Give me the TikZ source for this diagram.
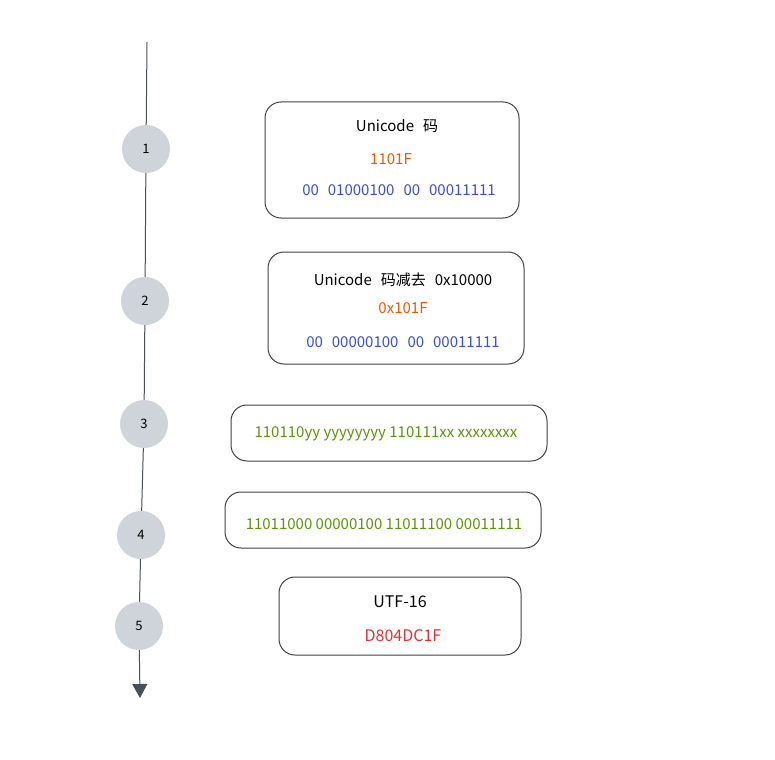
\documentclass[tikz,border=0pt]{standalone}
\usepackage{fontspec}
\setmainfont{Noto Sans CJK SC}
\usetikzlibrary{arrows.meta}
\definecolor{stepgray}{HTML}{CED4DA}
\definecolor{linegray}{HTML}{495057}
\definecolor{codeorange}{HTML}{E8590C}
\definecolor{codeblue}{HTML}{3B4FD0}
\definecolor{codegreen}{HTML}{5C940D}
\definecolor{codered}{HTML}{E03131}
\newcommand\widegap{\spaceskip 9pt plus 1pt\relax}
\tikzset{
  stepdot/.style={circle, fill=stepgray, minimum size=48pt, inner sep=0pt, font=\fontsize{13}{15}\selectfont},
  card/.style={draw=black!75, line width=1pt, rounded corners=16pt, inner sep=0pt},
  txt/.style={font=\fontsize{15}{17}\selectfont, inner sep=0pt},
  widetxt/.style={txt, font=\fontsize{15}{17}\selectfont\widegap}
}
\begin{document}
\begin{tikzpicture}[x=1pt,y=-1pt]
  \useasboundingbox (0,0) rectangle (775,759);
  % timeline
  \coordinate (top) at (147,42);
  \coordinate (bot) at (140,698);
  \node[stepdot] (s1) at (146,149) {1};
  \node[stepdot] (s2) at (145,301) {2};
  \node[stepdot] (s3) at (144,424) {3};
  \node[stepdot] (s4) at (141,535) {4};
  \node[stepdot] (s5) at (139,626) {5};
  \draw[linegray, line width=1pt] (top) -- (s1);
  \draw[linegray, line width=1pt] (s1) -- (s2);
  \draw[linegray, line width=1pt] (s2) -- (s3);
  \draw[linegray, line width=1pt] (s3) -- (s4);
  \draw[linegray, line width=1pt] (s4) -- (s5);
  \draw[linegray, line width=1pt, -{Triangle[length=14pt,width=15pt]}] (s5) -- (bot);
  % cards
  \node[card, minimum width=254pt, minimum height=116pt] (b1) at (392,160) {};
  \node[card, minimum width=256pt, minimum height=112pt] (b2) at (396,308) {};
  \node[card, minimum width=316pt, minimum height=56pt] (b3) at (389,433) {};
  \node[card, minimum width=316pt, minimum height=56pt] (b4) at (383,520) {};
  \node[card, minimum width=242pt, minimum height=78pt] (b5) at (400,616) {};
  % texts
  \node[widetxt] (t1a) at (397,126) {Unicode 码};
  \node[txt, text=codeorange] (t1b) at (391,159) {1101F};
  \node[widetxt, text=codeblue] (t1c) at (399,190) {00 01000100 00 00011111};
  \node[widetxt] (t2a) at (403,280) {Unicode 码减去 0x10000};
  \node[txt, text=codeorange] (t2b) at (403,308) {0x101F};
  \node[widetxt, text=codeblue] (t2c) at (403,342) {00 00000100 00 00011111};
  \node[txt, text=codegreen] (t3) at (386,434) {110110yy yyyyyyyy 110111xx xxxxxxxx};
  \node[txt, text=codegreen] (t4) at (384,524) {11011000 00000100 11011100 00011111};
  \node[txt, font=\fontsize{16}{18}\selectfont] (t5a) at (400,602) {UTF-16};
  \node[txt, text=codered, font=\fontsize{16}{18}\selectfont] (t5b) at (403,636) {D804DC1F};
\end{tikzpicture}
\end{document}
